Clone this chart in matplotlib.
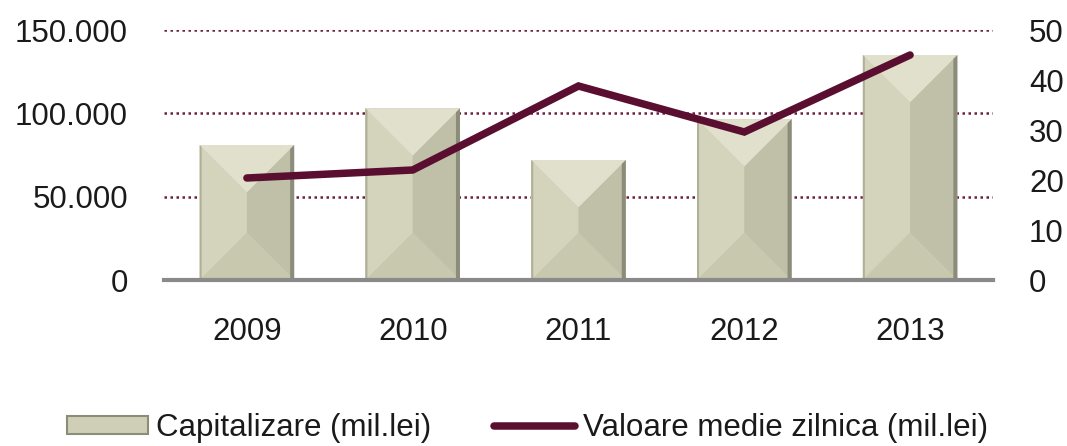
import matplotlib
matplotlib.use('Agg')
import matplotlib.pyplot as plt
from matplotlib.patches import Polygon, Patch
from matplotlib.lines import Line2D

# Данные графика
ani = ['2009', '2010', '2011', '2012', '2013']
capitalizare = [81000, 103000, 72000, 96500, 135000]   # mil.lei, левая ось
valoare_medie = [20.4, 22.0, 38.8, 29.6, 45.0]         # mil.lei, правая ось
left_ticks = [0, 50000, 100000, 150000]
right_ticks = [0, 10, 20, 30, 40, 50]

plt.rcParams['font.family'] = ['Liberation Sans', 'DejaVu Sans']
fs = 22.5
txt = '#1a1a1a'
maroon = '#5a0f30'

fig = plt.figure(figsize=(10.67, 4.46), dpi=100)
ax = fig.add_axes([164 / 1067, 1 - 280 / 446, (993 - 164) / 1067, 250 / 446])

x = list(range(len(ani)))
bars = ax.bar(x, capitalizare, width=0.57, color='#cfcfb6', zorder=2)

ax.set_xlim(-0.5, len(ani) - 0.5)
ax.set_ylim(0, 150000)
ax.set_yticks(left_ticks)
ax.set_yticklabels([f'{v:,}'.replace(',', '.') for v in left_ticks])
ax.set_xticks(x)
ax.set_xticklabels(ani)
ax.tick_params(axis='y', length=0, pad=26, labelsize=fs, labelcolor=txt)
ax.tick_params(axis='x', length=0, pad=27, labelsize=fs, labelcolor=txt)
ax.yaxis.grid(True, linestyle=(0, (1, 1.4)), color='#6e1e40', linewidth=1.8)
ax.set_axisbelow(True)
for s in ['top', 'left', 'right']:
    ax.spines[s].set_visible(False)
ax.spines['bottom'].set_color('#8a8a8a')
ax.spines['bottom'].set_linewidth(3)
ax.spines['bottom'].set_zorder(3)

# Эффект "фаски" на столбиках - грани считаем из размеров столбика в пикселях
to_px = ax.transData
to_data = ax.transData.inverted()
for b in bars:
    (x0, y0), (x1, y1) = to_px.transform([(b.get_x(), 0), (b.get_x() + b.get_width(), b.get_height())])
    xm = (x0 + x1) / 2
    d = min((x1 - x0) / 2, (y1 - y0) / 2)
    faces = [
        ([(x0, y0), (xm, y0 + d), (xm, y1 - d), (x0, y1)], '#d4d4bc'),   # левая
        ([(x1, y0), (xm, y0 + d), (xm, y1 - d), (x1, y1)], '#c0c0a8'),   # правая
        ([(x0, y1), (x1, y1), (xm, y1 - d)], '#e0e0cd'),                 # верх
        ([(x0, y0), (x1, y0), (xm, y0 + d)], '#c8c8ae'),                 # низ
    ]
    for pts, c in faces:
        ax.add_patch(Polygon(to_data.transform(pts), closed=True, facecolor=c,
                             edgecolor='none', zorder=2.1))
    # тень справа и тёмный край слева
    ax.add_patch(Polygon(to_data.transform([(x1 - 4, y0), (x1, y0), (x1, y1), (x1 - 4, y1 - 4)]),
                         closed=True, facecolor='#8c8c7a', edgecolor='none', zorder=2.2))
    ax.add_patch(Polygon(to_data.transform([(x0, y0), (x0 + 2, y0), (x0 + 2, y1 - 2), (x0, y1)]),
                         closed=True, facecolor='#b0b098', edgecolor='none', zorder=2.2))

ax2 = ax.twinx()
ax2.plot(x, valoare_medie, color=maroon, linewidth=5.4, solid_capstyle='round',
         solid_joinstyle='miter', zorder=5)
ax2.set_ylim(0, 50)
ax2.set_yticks(right_ticks)
ax2.tick_params(axis='y', length=0, pad=26, labelsize=fs, labelcolor=txt)
for s in ['top', 'left', 'right', 'bottom']:
    ax2.spines[s].set_visible(False)

handles = [Patch(facecolor='#cfcfb6', edgecolor='#8c8c7a', linewidth=1.5),
           Line2D([0], [0], color=maroon, linewidth=5.4, solid_capstyle='round')]
fig.legend(handles, ['Capitalizare (mil.lei)', 'Valoare medie zilnica (mil.lei)'],
           loc='center left', bbox_to_anchor=(67 / 1067, 1 - 428 / 446), ncol=2,
           frameon=False, fontsize=fs, handlelength=2.6, handleheight=0.55,
           handletextpad=0.25, columnspacing=2.0, borderpad=0, borderaxespad=0,
           labelcolor=txt)

fig.savefig('out.png', dpi=100)
